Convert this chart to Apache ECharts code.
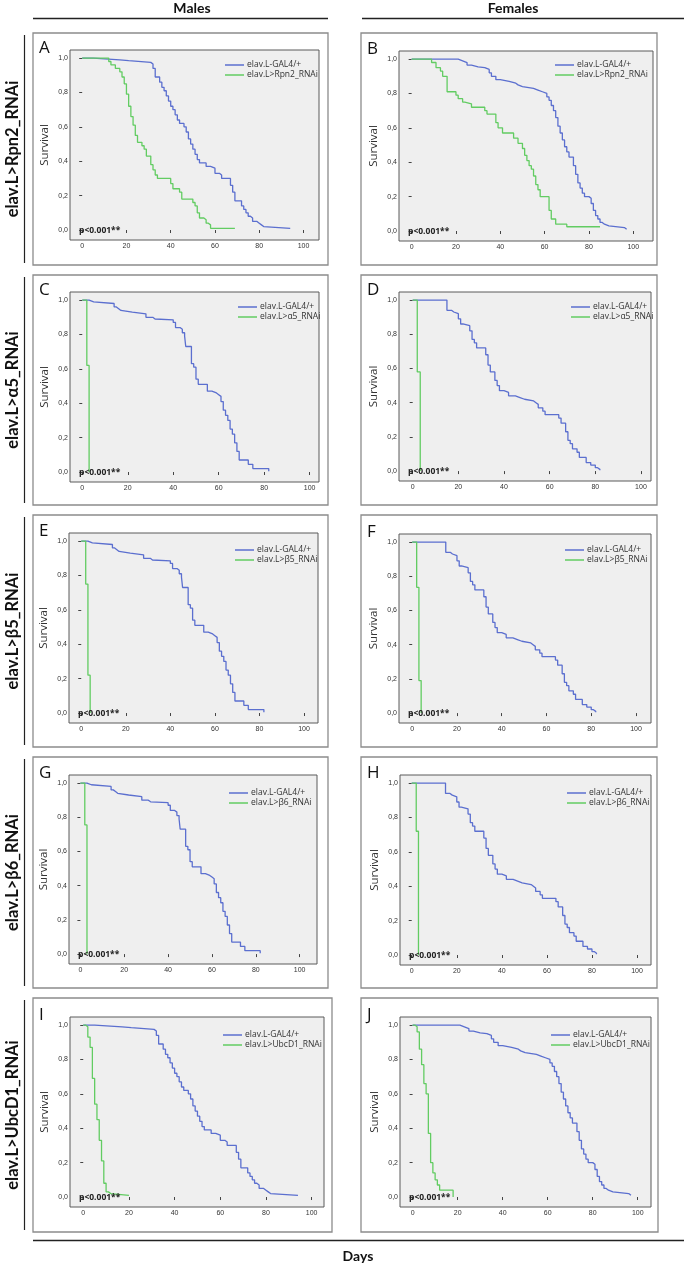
<!DOCTYPE html>
<html><head><meta charset="utf-8">
<script src="https://cdn.jsdelivr.net/npm/echarts@6/dist/echarts.min.js"></script>
<style>html,body{margin:0;padding:0;background:#fff}#c{width:685px;height:1269px}</style>
</head><body><div id="c"></div>
<script>
// ---------- DATA ----------
const xTicks = [0, 20, 40, 60, 80, 100];
const yTicks = [0, 0.2, 0.4, 0.6, 0.8, 1.0];
const yTickLabels = ['0,0', '0,2', '0,4', '0,6', '0,8', '1,0'];
const columnHeaders = ['Males', 'Females'];
const xTitle = 'Days';
const yTitle = 'Survival';
const pValueText = 'p<0.001**';
const panelLetters = ['A', 'B', 'C', 'D', 'E', 'F', 'G', 'H', 'I', 'J'];
const rowLabels = ['elav.L>Rpn2_RNAi', 'elav.L>\u03b15_RNAi', 'elav.L>\u03b25_RNAi', 'elav.L>\u03b26_RNAi', 'elav.L>UbcD1_RNAi'];
const ctrlName = 'elav.L-GAL4/+';
const rnaiNames = ['elav.L>Rpn2_RNAi', 'elav.L>\u03b15_RNAi', 'elav.L>\u03b25_RNAi', 'elav.L>\u03b26_RNAi', 'elav.L>UbcD1_RNAi'];

// Kaplan-Meier steps: [day, survival from that day on]
const maleCtrl1 = [[0,1],[5,0.99],[17,0.985],[21,0.975],[31,0.965],[32,0.94],[33,0.89],[35,0.86],[36,0.83],[37,0.81],[38,0.78],[39,0.75],[40,0.72],[41,0.70],[42,0.67],[43,0.64],[44,0.62],[46,0.60],[47,0.57],[48,0.53],[49,0.50],[50,0.47],[51,0.44],[52,0.41],[53,0.39],[56,0.37],[58,0.36],[60,0.33],[62,0.32],[63,0.30],[67,0.26],[68,0.22],[69,0.17],[72,0.14],[73,0.12],[74,0.10],[75,0.08],[76,0.07],[77,0.05],[79,0.04],[80,0.03],[81,0.02],[82,0.01],[94,0.01]];
const maleRpn2 = [[0,1],[12,0.98],[13,0.96],[15,0.94],[17,0.92],[18,0.89],[19,0.85],[20,0.79],[21,0.72],[22,0.66],[23,0.61],[24,0.55],[25,0.51],[27,0.49],[28,0.47],[29,0.43],[31,0.38],[32,0.35],[33,0.32],[34,0.30],[40,0.27],[41,0.24],[44,0.22],[45,0.18],[50,0.16],[51,0.14],[52,0.10],[53,0.07],[55,0.06],[56,0.04],[57,0.03],[58,0.01],[69,0.01]];
const femaleCtrl1 = [[0,1],[21,0.99],[23,0.98],[25,0.965],[27,0.955],[30,0.95],[33,0.94],[35,0.92],[36,0.90],[38,0.88],[40,0.87],[44,0.86],[47,0.85],[48,0.84],[50,0.83],[55,0.82],[57,0.81],[59,0.80],[61,0.78],[62,0.76],[63,0.73],[64,0.70],[65,0.66],[66,0.61],[67,0.57],[68,0.53],[69,0.49],[70,0.46],[71,0.43],[73,0.38],[74,0.33],[75,0.28],[76,0.25],[77,0.22],[78,0.20],[80,0.19],[81,0.16],[82,0.12],[83,0.09],[84,0.07],[85,0.05],[86,0.04],[87,0.03],[89,0.02],[96,0.01],[97,0.01]];
const femaleRpn2 = [[0,1],[9,0.98],[11,0.95],[13,0.93],[14,0.90],[16,0.81],[20,0.79],[21,0.77],[23,0.75],[24,0.74],[27,0.72],[33,0.70],[34,0.68],[38,0.63],[39,0.60],[41,0.57],[46,0.54],[48,0.51],[50,0.48],[51,0.44],[52,0.41],[53,0.38],[54,0.36],[55,0.32],[56,0.27],[57,0.24],[58,0.20],[62,0.12],[63,0.07],[65,0.04],[70,0.025],[85,0.025]];
const maleCtrl2 = [[0,1],[3,0.99],[5,0.98],[14,0.96],[15,0.95],[16,0.94],[17,0.93],[22,0.92],[28,0.90],[31,0.89],[32,0.885],[40,0.87],[41,0.84],[43,0.83],[44,0.81],[45,0.79],[45.5,0.73],[48,0.63],[49,0.61],[50,0.54],[51,0.51],[55,0.47],[57,0.46],[59,0.45],[60,0.44],[61,0.41],[62,0.36],[63,0.33],[64,0.30],[65,0.25],[66,0.22],[67,0.17],[68,0.12],[69,0.07],[73,0.045],[75,0.02],[82,0.02],[82,0.005]];
const femaleCtrl2 = [[0,1],[15,0.94],[17,0.93],[18,0.92],[20,0.89],[21,0.86],[22,0.85],[25,0.82],[26,0.77],[27,0.75],[28,0.72],[32,0.68],[33,0.62],[34,0.58],[36,0.53],[37,0.50],[38,0.47],[40,0.46],[42,0.44],[45,0.43],[47,0.42],[49,0.41],[53,0.40],[54,0.39],[55,0.37],[57,0.35],[58,0.33],[64,0.31],[65,0.28],[67,0.23],[68,0.18],[69,0.16],[70,0.13],[72,0.11],[73,0.08],[76,0.05],[78,0.035],[80,0.02],[81,0.01],[82,0.005]];
const maleA5 = [[0,1],[2,0.62],[3,0]];
const femaleA5 = [[0,1],[2,0.58],[3.3,0]];
const maleB5 = [[0,1],[2,0.75],[3,0.22],[4,0]];
const femaleB5 = [[0,1],[2,0.735],[3,0.19],[4,0]];
const maleB6 = [[0,1],[2,0.755],[3,0]];
const femaleB6 = [[0,1],[2,0.72],[3,0]];
const maleUbc = [[0,1],[1,0.99],[2,0.93],[3,0.87],[4,0.69],[5,0.54],[6,0.45],[7,0.33],[8,0.21],[9,0.08],[10,0.03],[11,0.02],[12,0.01],[20,0.01]];
const femaleUbc = [[0,1],[1,0.99],[2,0.96],[3,0.86],[4,0.77],[5,0.66],[6,0.60],[7,0.37],[8,0.20],[9,0.14],[10,0.10],[11,0.07],[12,0.04],[18,0.04],[18,0]];

const panelCtrl = [maleCtrl1, femaleCtrl1, maleCtrl2, femaleCtrl2, maleCtrl2, femaleCtrl2, maleCtrl2, femaleCtrl2, maleCtrl1, femaleCtrl1];
const panelRnai = [maleRpn2, femaleRpn2, maleA5, femaleA5, maleB5, femaleB5, maleB6, femaleB6, maleUbc, femaleUbc];

// ---------- LAYOUT ----------
const layout = [
  {box:[33,33,328,265],   grid:[70,50,319,240],    x:[-5.5,107],  lg:[225,60]},
  {box:[361,33,657,265],  grid:[399,51,653,241],   x:[-5.7,108.9],lg:[555,60]},
  {box:[33,275,328,505],  grid:[70,292,319,482],   x:[-5.4,104.1],lg:[238,302]},
  {box:[361,275,657,505], grid:[399,292,651,481],  x:[-6,104.4],  lg:[571,302]},
  {box:[33,515,328,747],  grid:[69,533,318,723],   x:[-5.5,106.3],lg:[235,545]},
  {box:[361,515,657,747], grid:[399,534,651,723],  x:[-5.9,106.7],lg:[565,545]},
  {box:[33,757,328,988],  grid:[69,775,317,964],   x:[-5.2,107.9],lg:[229,788]},
  {box:[361,757,657,988], grid:[400,775,651,965],  x:[-5.2,106.2],lg:[567,788]},
  {box:[33,998,332,1232], grid:[70,1017,324,1207], x:[-5.8,105.4],lg:[223,1030]},
  {box:[361,998,658,1232],grid:[400,1017,651,1207],x:[-5.6,105.9],lg:[551,1030]}
];
const yRange = [-0.058, 1.047];
const BLUE = '#5b6fcf', GREEN = '#62cc62';
const FONT = "'Open Sans', 'DejaVu Sans', sans-serif";
const HFONT = "Lato, 'Open Sans', sans-serif";

const grids = [], xAxes = [], yAxes = [], series = [], legends = [], graphics = [];

layout.forEach((L, i) => {
  const [gl, gt, gr, gb] = L.grid;
  grids.push({left: gl, top: gt, width: gr - gl, height: gb - gt, show: true,
    backgroundColor: '#efefef', borderColor: '#5a5a5a', borderWidth: 1});
  xAxes.push({type: 'value', gridIndex: i, min: L.x[0], max: L.x[1],
    axisLine: {show: false}, splitLine: {show: false},
    axisTick: {show: true, inside: false, length: 3, customValues: xTicks, lineStyle: {color: '#444', width: 1}},
    axisLabel: {show: true, customValues: xTicks, margin: 3, fontSize: 7, color: '#333', fontFamily: "'Liberation Sans', Arial, sans-serif"}});
  yAxes.push({type: 'value', gridIndex: i, min: yRange[0], max: yRange[1],
    axisLine: {show: false}, splitLine: {show: false},
    axisTick: {show: true, inside: false, length: 3, customValues: yTicks, lineStyle: {color: '#444', width: 1}},
    axisLabel: {show: true, customValues: yTicks, margin: 2, fontSize: 7, color: '#333', fontFamily: "'Liberation Sans', Arial, sans-serif",
      formatter: v => { const k = yTicks.findIndex(t => Math.abs(t - v) < 1e-6); return k >= 0 ? yTickLabels[k] : ''; }}});
  const rn = rnaiNames[Math.floor(i / 2)];
  series.push({type: 'line', name: ctrlName, xAxisIndex: i, yAxisIndex: i, data: panelCtrl[i], step: 'end',
    showSymbol: false, symbol: 'none', silent: true, lineStyle: {color: BLUE, width: 1.3}, itemStyle: {color: BLUE}});
  series.push({type: 'line', name: rn, xAxisIndex: i, yAxisIndex: i, data: panelRnai[i], step: 'end',
    showSymbol: false, symbol: 'none', silent: true, lineStyle: {color: GREEN, width: 1.3}, itemStyle: {color: GREEN}});
  legends.push({orient: 'vertical', left: L.lg[0], top: L.lg[1], padding: 0, itemGap: 0, itemWidth: 19, itemHeight: 1.5,
    icon: 'rect', selectedMode: false, data: [ctrlName, rn],
    textStyle: {fontSize: 8.5, lineHeight: 10, color: '#333', fontFamily: FONT, padding: [0, 0, 0, -2]}});
  // panel box
  const [bl, bt, br, bb] = L.box;
  graphics.push({type: 'rect', shape: {x: bl, y: bt, width: br - bl, height: bb - bt},
    style: {fill: null, stroke: '#8c8c8c', lineWidth: 1.3}, silent: true, z: 0});
  // panel letter
  graphics.push({type: 'text', x: bl + 6, y: gt - 2, style: {text: panelLetters[i], font: '17px ' + FONT,
    fill: '#111', textAlign: 'left', textVerticalAlign: 'middle'}, silent: true});
  // y title
  graphics.push({type: 'text', x: gl - 25, y: (gt + gb) / 2, rotation: Math.PI / 2,
    style: {text: yTitle, font: '11.5px ' + FONT, fill: '#333', textAlign: 'center', textVerticalAlign: 'middle'}, silent: true});
  // p value
  graphics.push({type: 'text', x: gl + 9, y: gb - 9, style: {text: pValueText, font: 'bold 8.5px ' + FONT,
    fill: '#222', textAlign: 'left', textVerticalAlign: 'middle'}, silent: true, z: 10});
});

// row labels + bars
for (let r = 0; r < 5; r++) {
  const L = layout[r * 2];
  const cy = (L.box[1] + L.box[3]) / 2;
  graphics.push({type: 'text', x: 13, y: cy, rotation: Math.PI / 2,
    style: {text: rowLabels[r], font: 'bold 16.5px ' + HFONT, fill: '#111', textAlign: 'center', textVerticalAlign: 'middle'}, silent: true});
  graphics.push({type: 'line', shape: {x1: 24.5, y1: L.box[1] + 2, x2: 24.5, y2: L.box[3] - 2},
    style: {stroke: '#222', lineWidth: 1.2}, silent: true});
}
// column headers
graphics.push({type: 'text', x: 192, y: 8, style: {text: columnHeaders[0], font: 'bold 14px ' + HFONT, fill: '#111', textAlign: 'center', textVerticalAlign: 'middle'}, silent: true});
graphics.push({type: 'text', x: 513, y: 8, style: {text: columnHeaders[1], font: 'bold 14px ' + HFONT, fill: '#111', textAlign: 'center', textVerticalAlign: 'middle'}, silent: true});
graphics.push({type: 'line', shape: {x1: 33, y1: 18.5, x2: 328, y2: 18.5}, style: {stroke: '#222', lineWidth: 1.3}, silent: true});
graphics.push({type: 'line', shape: {x1: 362, y1: 18.5, x2: 684, y2: 18.5}, style: {stroke: '#222', lineWidth: 1.3}, silent: true});
// bottom
graphics.push({type: 'line', shape: {x1: 33, y1: 1240.5, x2: 684, y2: 1240.5}, style: {stroke: '#222', lineWidth: 1.3}, silent: true});
graphics.push({type: 'text', x: 358, y: 1256, style: {text: xTitle, font: 'bold 14px ' + HFONT, fill: '#111', textAlign: 'center', textVerticalAlign: 'middle'}, silent: true});

const chart = echarts.init(document.getElementById('c'), null, {renderer: 'canvas'});
chart.setOption({
  animation: false,
  backgroundColor: '#fff',
  grid: grids, xAxis: xAxes, yAxis: yAxes, series: series, legend: legends,
  graphic: {elements: graphics}
});
</script></body></html>
